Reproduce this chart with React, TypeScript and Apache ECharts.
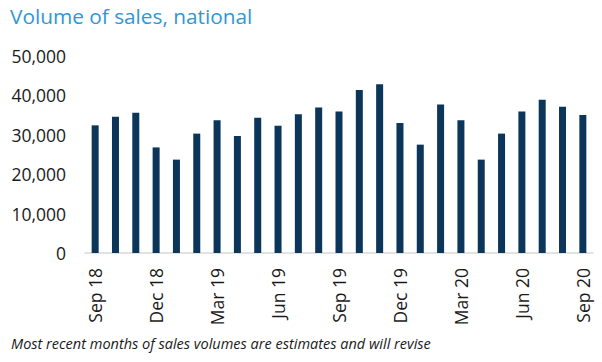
import React, { useEffect, useRef } from "react";
import * as echarts from "echarts";

const categories = [
  "Sep 18", "Oct 18", "Nov 18", "Dec 18", "Jan 19", "Feb 19", "Mar 19", "Apr 19", "May 19",
  "Jun 19", "Jul 19", "Aug 19", "Sep 19", "Oct 19", "Nov 19", "Dec 19", "Jan 20", "Feb 20",
  "Mar 20", "Apr 20", "May 20", "Jun 20", "Jul 20", "Aug 20", "Sep 20",
];
const salesVolumes = [
  32400, 34600, 35600, 26800, 23700, 30300, 33700, 29700, 34300,
  32300, 35200, 36900, 35900, 41400, 42800, 33000, 27500, 37700,
  33700, 23700, 30300, 35900, 38900, 37100, 35000,
];
const yTicks = { min: 0, max: 50000, interval: 10000 };
const titleText = "Volume of sales, national";
const footnoteText = "Most recent months of sales volumes are estimates and will revise";

export default function App() {
  const ref = useRef<HTMLDivElement>(null);
  useEffect(() => {
    if (!ref.current) return;
    const chart = echarts.init(ref.current, null, { renderer: "svg" });
    const font = "'Open Sans', sans-serif";
    chart.setOption({
      animation: false,
      backgroundColor: "#ffffff",
      textStyle: { fontFamily: font },
      grid: { left: 85, right: 9, top: 56, bottom: 109, containLabel: false },
      graphic: [
        {
          type: "text",
          left: 10,
          top: 5,
          style: { text: titleText, fontSize: 20.8, fontFamily: font, fill: "#3097D4" },
        },
        {
          type: "text",
          left: 11,
          top: 336,
          style: { text: footnoteText, fontSize: 14.5, fontStyle: "italic", fontFamily: font, fill: "#1a1a1a" },
        },
      ],
      xAxis: {
        type: "category",
        data: categories,
        axisLine: { show: true, lineStyle: { color: "#d9d9d9", width: 1.5 } },
        axisTick: { show: false },
        axisLabel: {
          interval: 2,
          rotate: 90,
          margin: 15,
          fontSize: 17.5,
          color: "#1a1a1a",
          fontFamily: font,
        },
      },
      yAxis: {
        type: "value",
        min: yTicks.min,
        max: yTicks.max,
        interval: yTicks.interval,
        axisLine: { show: false },
        axisTick: { show: false },
        splitLine: { show: false },
        axisLabel: {
          margin: 19,
          fontSize: 17.5,
          color: "#1a1a1a",
          fontFamily: font,
          formatter: (v: number) => v.toLocaleString("en-US"),
        },
      },
      series: [
        {
          type: "bar",
          data: salesVolumes,
          barWidth: 7,
          itemStyle: { color: "#0B3559" },
        },
      ],
    });
    return () => chart.dispose();
  }, []);
  return <div ref={ref} style={{ position: "absolute", left: 0, top: 0, width: 602, height: 362 }} />;
}
